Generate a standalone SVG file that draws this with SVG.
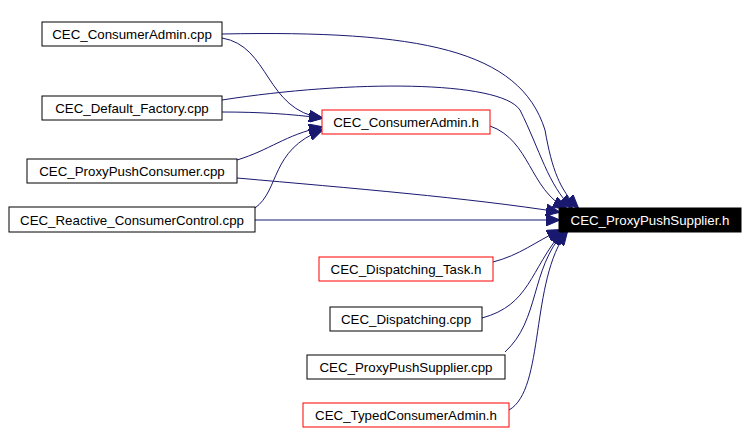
<svg xmlns="http://www.w3.org/2000/svg" width="748" height="434" viewBox="0 0 748 434">
<style>
.n rect{fill:#fff;stroke:#000;stroke-width:1}
.n.r rect{stroke:#ff0000}
.n text{font-family:"Liberation Sans",Arial,sans-serif;font-size:13.3px;text-anchor:middle;fill:#000}
#target rect{fill:#000}
#target text{fill:#fff}
#edges path{fill:none;stroke:#191970;stroke-width:1;marker-end:url(#a)}
</style>
<defs>
<marker id="a" markerUnits="userSpaceOnUse" markerWidth="14" markerHeight="12" viewBox="0 0 14 12" refX="13" refY="6" orient="auto">
<path d="M0,0 L14,6 L0,12 z" fill="#191970" stroke="#191970"/>
</marker>
</defs>
<rect width="748" height="434" fill="#fff"/>
<g id="edges">
<path d="M222,38 C270,46 265,110 322,118"/>
<path d="M222,34 C420,30 520,50 545,130 C552,170 560,190 578,208"/>
<path d="M222,112 C260,112 290,114 322,118"/>
<path d="M222,100 C350,80 500,80 520,110 C540,150 548,185 572,208"/>
<path d="M237,160 C270,150 285,135 322,127"/>
<path d="M237,178 C350,188 470,198 559,212"/>
<path d="M255,208 C280,190 270,150 322,130"/>
<path d="M255,220 L559,220"/>
<path d="M490,126 C530,140 530,190 566,208"/>
<path d="M493,262 C520,255 535,242 560,230"/>
<path d="M482,318 C530,305 530,270 562,232"/>
<path d="M505,352 C540,320 530,270 564,232"/>
<path d="M509,410 C545,390 530,280 567,232"/>
</g>
<g id="n1" class="n"><rect x="42" y="22" width="180" height="24"/><text x="132" y="39">CEC_ConsumerAdmin.cpp</text></g>
<g id="n2" class="n"><rect x="42" y="96" width="180" height="24"/><text x="132" y="113">CEC_Default_Factory.cpp</text></g>
<g id="n3" class="n r"><rect x="322" y="110" width="168" height="24"/><text x="406" y="127">CEC_ConsumerAdmin.h</text></g>
<g id="n4" class="n"><rect x="27" y="159" width="210" height="24"/><text x="132" y="176">CEC_ProxyPushConsumer.cpp</text></g>
<g id="n5" class="n"><rect x="9" y="207" width="246" height="25"/><text x="132" y="225">CEC_Reactive_ConsumerControl.cpp</text></g>
<g id="target" class="n"><rect x="559" y="208" width="182" height="24"/><text x="650" y="225">CEC_ProxyPushSupplier.h</text></g>
<g id="n6" class="n r"><rect x="319" y="257" width="174" height="24"/><text x="406" y="274">CEC_Dispatching_Task.h</text></g>
<g id="n7" class="n"><rect x="330" y="307" width="152" height="24"/><text x="406" y="324">CEC_Dispatching.cpp</text></g>
<g id="n8" class="n"><rect x="307" y="355" width="198" height="24"/><text x="406" y="372">CEC_ProxyPushSupplier.cpp</text></g>
<g id="n9" class="n r"><rect x="303" y="403" width="206" height="24"/><text x="406" y="420">CEC_TypedConsumerAdmin.h</text></g>
</svg>
